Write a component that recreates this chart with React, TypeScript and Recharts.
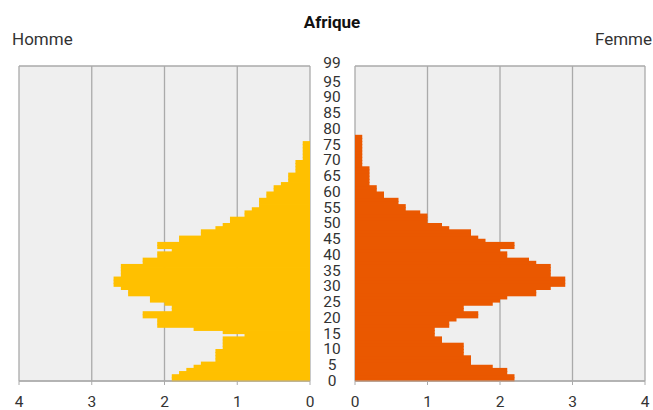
import { BarChart, Bar, XAxis, YAxis, CartesianGrid } from "recharts";

// one row per age, 0 to 99 (share of the population, %)
const ages = Array.from({ length: 100 }, (_, i) => i);
const ageTicks = [0, 5, 10, 15, 20, 25, 30, 35, 40, 45, 50, 55, 60, 65, 70, 75, 80, 85, 90, 95, 99];
const shareTicks = [0, 1, 2, 3, 4];

const hommeShare = [
  1.9, 1.9, 1.8, 1.7, 1.6, 1.5, 1.3, 1.3, 1.3, 1.3,
  1.2, 1.2, 1.2, 1.2, 0.9, 1.2, 1.6, 2.1, 2.1, 2.1,
  2.3, 2.3, 1.9, 1.9, 2.0, 2.2, 2.2, 2.5, 2.5, 2.6,
  2.7, 2.7, 2.7, 2.6, 2.6, 2.6, 2.6, 2.3, 2.3, 2.1,
  2.1, 1.9, 2.1, 2.1, 1.8, 1.8, 1.5, 1.5, 1.3, 1.2,
  1.1, 1.1, 0.9, 0.9, 0.8, 0.7, 0.7, 0.7, 0.6, 0.6,
  0.5, 0.5, 0.4, 0.3, 0.3, 0.3, 0.2, 0.2, 0.2, 0.2,
  0.1, 0.1, 0.1, 0.1, 0.1, 0.1, 0, 0, 0, 0,
  0, 0, 0, 0, 0, 0, 0, 0, 0, 0,
  0, 0, 0, 0, 0, 0, 0, 0, 0, 0,
];

const femmeShare = [
  2.2, 2.2, 2.1, 2.1, 1.9, 1.6, 1.6, 1.6, 1.5, 1.5,
  1.5, 1.5, 1.2, 1.2, 1.1, 1.1, 1.1, 1.3, 1.3, 1.4,
  1.7, 1.7, 1.5, 1.5, 1.9, 2.0, 2.1, 2.5, 2.5, 2.7,
  2.9, 2.9, 2.9, 2.7, 2.7, 2.7, 2.7, 2.5, 2.4, 2.1,
  2.1, 2.0, 2.2, 2.2, 1.8, 1.7, 1.6, 1.6, 1.3, 1.2,
  1.0, 1.0, 1.0, 0.9, 0.7, 0.7, 0.6, 0.6, 0.4, 0.4,
  0.3, 0.3, 0.2, 0.2, 0.2, 0.2, 0.2, 0.2, 0.1, 0.1,
  0.1, 0.1, 0.1, 0.1, 0.1, 0.1, 0.1, 0.1, 0, 0,
  0, 0, 0, 0, 0, 0, 0, 0, 0, 0,
  0, 0, 0, 0, 0, 0, 0, 0, 0, 0,
];

const rows = ages.map((age, i) => ({ age, homme: hommeShare[i], femme: femmeShare[i] }));

const GRID = "#aaaaaa";
const TEXT = "#333333";
const HOMME = "#FFC000";
const FEMME = "#EA5800";

// top and bottom edge of the plot, so the grid draws a full frame
const frameLines = ({ offset }: any) => [offset.top, offset.top + offset.height];

// recharts rounds the bar thickness down to whole pixels, which leaves hairline
// gaps between ages; stretch each bar a little so neighbours touch
const SolidBar = (props: any) => {
  const { x, y, width, height, fill } = props;
  if (!width) return null;
  const left = Math.min(x, x + width);
  return <rect x={left} y={y - 0.5} width={Math.abs(width)} height={height + 1} fill={fill} />;
};

const AgeTick = (props: any) => {
  const { x, y, payload } = props;
  const dy = payload.value === 99 ? -5 : 1.5;
  return (
    <text x={x} y={y + dy} textAnchor="middle" dominantBaseline="central" fill={TEXT} fontSize={15.5}>
      {payload.value}
    </text>
  );
};

const labelStyle: React.CSSProperties = {
  position: "absolute",
  fontSize: 17,
  color: TEXT,
  lineHeight: "20px",
};

export default function App() {
  return (
    <div
      style={{
        position: "absolute",
        left: 0,
        top: 0,
        width: 653,
        height: 410,
        background: "#fff",
        fontFamily: "Roboto, sans-serif",
      }}
    >
      <div style={{ ...labelStyle, left: 232, top: 12, width: 200, textAlign: "center", fontWeight: 700, color: "#111" }}>
        Afrique
      </div>
      <div style={{ ...labelStyle, left: 12, top: 29 }}>Homme</div>
      <div style={{ ...labelStyle, right: 1, top: 29 }}>Femme</div>

      <div style={{ position: "absolute", left: 0, top: 0 }}>
        <BarChart
          layout="vertical"
          width={345}
          height={410}
          data={rows}
          barCategoryGap={0}
          barGap={0}
          margin={{ top: 66, right: 0, bottom: 4, left: 19 }}
        >
          <CartesianGrid fill="#efefef" stroke={GRID} strokeWidth={1.3} horizontalCoordinatesGenerator={frameLines} />
          <XAxis
            type="number"
            domain={[0, 4]}
            ticks={shareTicks}
            reversed
            height={25}
            stroke={GRID}
            tickSize={4}
            tickMargin={11}
            tick={{ fill: TEXT, fontSize: 15.5 }}
          />
          <YAxis
            type="category"
            dataKey="age"
            orientation="right"
            reversed
            width={35}
            ticks={ageTicks}
            interval={0}
            tickSize={0}
            tickMargin={22}
            axisLine={false}
            tickLine={false}
            tick={<AgeTick />}
          />
          <Bar dataKey="homme" fill={HOMME} shape={<SolidBar />} isAnimationActive={false} />
        </BarChart>
      </div>

      <div style={{ position: "absolute", left: 345, top: 0 }}>
        <BarChart
          layout="vertical"
          width={308}
          height={410}
          data={rows}
          barCategoryGap={0}
          barGap={0}
          margin={{ top: 66, right: 8, bottom: 4, left: 10 }}
        >
          <CartesianGrid fill="#efefef" stroke={GRID} strokeWidth={1.3} horizontalCoordinatesGenerator={frameLines} />
          <XAxis
            type="number"
            domain={[0, 4]}
            ticks={shareTicks}
            height={25}
            stroke={GRID}
            tickSize={4}
            tickMargin={11}
            tick={{ fill: TEXT, fontSize: 15.5 }}
          />
          <YAxis type="category" dataKey="age" reversed hide />
          <Bar dataKey="femme" fill={FEMME} shape={<SolidBar />} isAnimationActive={false} />
        </BarChart>
      </div>
    </div>
  );
}
